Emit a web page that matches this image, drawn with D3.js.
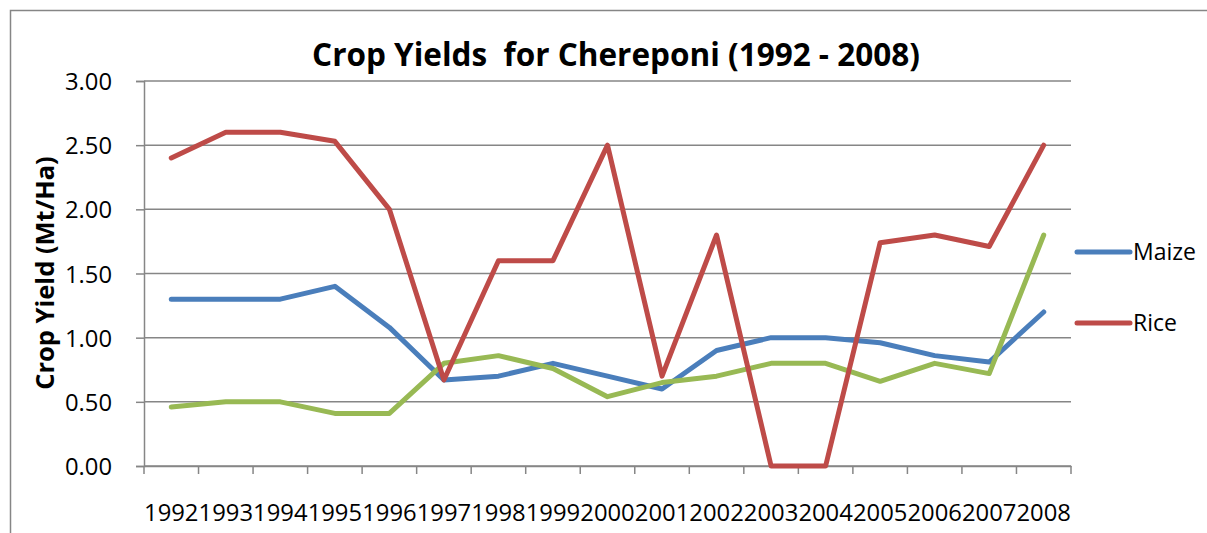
<!DOCTYPE html>
<html>
<head>
    <title>Crop Yields for Chereponi</title>
    <script src="https://d3js.org/d3.v7.min.js"></script>
    <style>
        body { margin: 0; background: #fff; }
        text { font-family: "Open Sans", sans-serif; fill: #000; }
    </style>
</head>
<body>
    <div id="chart"></div>
    <script>
        // data
        const years = ["1992","1993","1994","1995","1996","1997","1998","1999","2000","2001","2002","2003","2004","2005","2006","2007","2008"];
        const maize = [1.30,1.30,1.30,1.40,1.08,0.67,0.70,0.80,0.70,0.60,0.90,1.00,1.00,0.96,0.86,0.81,1.20];
        const rice = [2.40,2.60,2.60,2.53,2.00,0.67,1.60,1.60,2.50,0.70,1.80,0.00,0.00,1.74,1.80,1.71,2.50];
        const third = [0.46,0.50,0.50,0.41,0.41,0.80,0.86,0.76,0.54,0.65,0.70,0.80,0.80,0.66,0.80,0.72,1.80];
        const yTicks = [0, 0.5, 1, 1.5, 2, 2.5, 3];
        const legendNames = ["Maize", "Rice"];

        const w = 1207, h = 533;
        const plotLeft = 144, plotRight = 1071, plotTop = 81, plotBottom = 466;

        const svg = d3.select("#chart").append("svg")
            .attr("width", w)
            .attr("height", h);

        // outer chart frame
        svg.append("rect")
            .attr("x", 10.5).attr("y", 10.5)
            .attr("width", 1220).attr("height", 560)
            .attr("fill", "none")
            .attr("stroke", "#868686")
            .attr("stroke-width", 1.5);

        const x = d3.scaleBand().domain(years).range([plotLeft, plotRight]);
        const y = d3.scaleLinear().domain([0, 3]).range([plotBottom, plotTop]);

        // gridlines
        svg.append("g")
            .selectAll("line")
            .data(yTicks)
            .enter()
            .append("line")
            .attr("x1", plotLeft).attr("x2", plotRight)
            .attr("y1", d => y(d)).attr("y2", d => y(d))
            .attr("stroke", "#868686")
            .attr("stroke-width", 1.5);

        // y axis
        const yAxis = d3.axisLeft(y)
            .tickValues(yTicks)
            .tickFormat(d3.format(".2f"))
            .tickSize(8)
            .tickPadding(24);
        const yg = svg.append("g")
            .attr("transform", `translate(${plotLeft},0)`)
            .call(yAxis);
        yg.select(".domain").attr("stroke", "#868686").attr("stroke-width", 1.5);
        yg.selectAll(".tick line").attr("stroke", "#868686").attr("stroke-width", 1.5);
        yg.selectAll(".tick text").style("font-size", "23.8px").attr("dy", "0.36em");

        // x axis
        const xAxis = d3.axisBottom(x).tickSize(0).tickPadding(38);
        const xg = svg.append("g")
            .attr("transform", `translate(0,${plotBottom})`)
            .call(xAxis);
        xg.select(".domain").attr("stroke", "#868686").attr("stroke-width", 1.5);
        xg.selectAll(".tick text").style("font-size", "23.8px");
        // tick marks between categories
        const edges = years.map(d => x(d)).concat([plotRight]);
        xg.selectAll(".edge")
            .data(edges)
            .enter()
            .append("line")
            .attr("x1", d => d).attr("x2", d => d)
            .attr("y1", 0).attr("y2", 8)
            .attr("stroke", "#868686")
            .attr("stroke-width", 1.5);

        // series lines
        const line = d3.line()
            .x((d, i) => x(years[i]) + x.bandwidth() / 2)
            .y(d => y(d));

        const series = [
            { values: maize, color: "#4a7ebb" },
            { values: rice, color: "#be4b48" },
            { values: third, color: "#98b954" }
        ];
        const drawOrder = [series[0], series[2], series[1]];
        drawOrder.forEach(s => {
            svg.append("path")
                .datum(s.values)
                .attr("d", line)
                .attr("fill", "none")
                .attr("stroke", s.color)
                .attr("stroke-width", 5)
                .attr("stroke-linejoin", "round")
                .attr("stroke-linecap", "round");
        });

        // legend
        const legend = svg.append("g")
            .selectAll("g")
            .data(legendNames)
            .enter()
            .append("g")
            .attr("transform", (d, i) => `translate(1077,${252 + i * 71})`);
        legend.append("line")
            .attr("x1", 0).attr("x2", 53)
            .attr("stroke", (d, i) => series[i].color)
            .attr("stroke-width", 5)
            .attr("stroke-linecap", "round");
        legend.append("text")
            .attr("x", 56)
            .attr("dy", "0.36em")
            .style("font-size", "23px")
            .text(d => d);

        // titles
        svg.append("text")
            .attr("x", 616)
            .attr("y", 66)
            .attr("text-anchor", "middle")
            .style("font-size", "31.5px")
            .style("font-weight", "bold")
            .attr("xml:space", "preserve")
            .text("Crop Yields  for Chereponi (1992 - 2008)");

        svg.append("text")
            .attr("transform", "rotate(-90)")
            .attr("x", -273)
            .attr("y", 54)
            .attr("text-anchor", "middle")
            .style("font-size", "25.5px")
            .style("font-weight", "bold")
            .text("Crop Yield (Mt/Ha)");
    </script>
</body>
</html>
